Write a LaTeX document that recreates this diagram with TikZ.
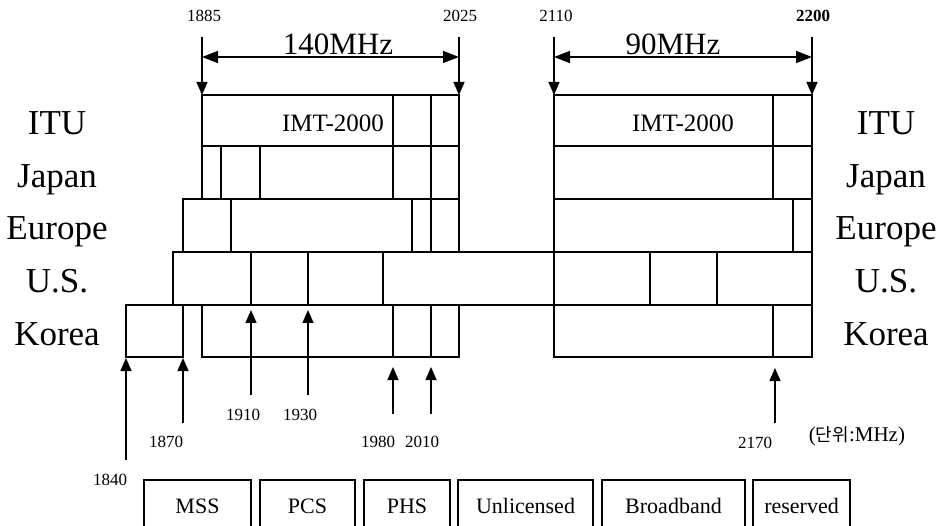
\documentclass[tikz,border=0pt]{standalone}
\usepackage{fontspec}
\setmainfont{Liberation Serif}
\newfontfamily\krfont{Noto Sans CJK KR}
\usetikzlibrary{arrows.meta}
\begin{document}
\begin{tikzpicture}[x=1pt,y=-1pt,
  band/.style={line width=1.4pt},
  uptip/.style={line width=1.4pt,-{Triangle[length=13pt,width=11pt]}},
  dimarrow/.style={line width=1.4pt,{Triangle[length=16pt,width=12pt]}-{Triangle[length=16pt,width=12pt]}},
  rowlab/.style={anchor=base,inner sep=0pt,font=\fontsize{35}{40}\selectfont},
  imt/.style={anchor=base,inner sep=0pt,font=\fontsize{25}{30}\selectfont},
  width/.style={anchor=base,inner sep=0pt,font=\fontsize{31}{36}\selectfont},
  freq/.style={anchor=base,inner sep=0pt,font=\fontsize{17}{20}\selectfont},
  legbox/.style={line width=1.4pt},
  legtext/.style={anchor=base,inner sep=0pt,font=\fontsize{22}{26}\selectfont}]
\useasboundingbox (0,0) rectangle (947,526);
\clip (0,0) rectangle (947,526);
\fill[white] (0,0) rectangle (947,526);

% row labels
\foreach \t/\b [count=\i] in {ITU/135,Japan/187.5,Europe/240,U.S./292.5,Korea/345}{
  \node[rowlab] (L\i) at (57,\b) {\t};
  \node[rowlab] (R\i) at (886,\b) {\t};
}

% ITU row
\draw[band] (202,95) rectangle (459,146);
\draw[band] (393,95) -- (393,146) (431,95) -- (431,146);
\draw[band] (554,95) rectangle (812,146);
\draw[band] (773,95) -- (773,146);
\node[imt] (imtA) at (333,132) {IMT-2000};
\node[imt] (imtB) at (683,132) {IMT-2000};

% Japan row
\draw[band] (202,146) rectangle (459,199);
\draw[band] (221,146) -- (221,199) (260,146) -- (260,199) (393,146) -- (393,199) (431,146) -- (431,199);
\draw[band] (554,146) rectangle (812,199);
\draw[band] (773,146) -- (773,199);

% Europe row
\draw[band] (183,199) rectangle (459,252);
\draw[band] (231,199) -- (231,252) (412,199) -- (412,252) (431,199) -- (431,252);
\draw[band] (554,199) rectangle (812,252);
\draw[band] (793,199) -- (793,252);

% U.S. row
\draw[band] (173,252) rectangle (812,305);
\foreach \x in {251,308,383,554,650,717} \draw[band] (\x,252) -- (\x,305);

% Korea row
\draw[band] (126,305) rectangle (183,357);
\draw[band] (202,305) rectangle (459,357);
\draw[band] (393,305) -- (393,357) (431,305) -- (431,357);
\draw[band] (554,305) rectangle (812,357);
\draw[band] (773,305) -- (773,357);

% top markers
\foreach \x/\n in {202/a,459/b,554/c,812/d}{
  \coordinate (ts\n) at (\x,37);
  \coordinate (te\n) at (\x,95);
  \draw[uptip] (ts\n) -- (te\n);
}
\coordinate (h1) at (202,57); \coordinate (h2) at (459,57);
\coordinate (h3) at (554,57); \coordinate (h4) at (812,57);
\draw[dimarrow] (h1) -- (h2);
\draw[dimarrow] (h3) -- (h4);
\node[width] (w140) at (338,55) {140MHz};
\node[width] (w90) at (673,55) {90MHz};
\node[freq] (f1885) at (204,22) {1885};
\node[freq] (f2025) at (460,22) {2025};
\node[freq] (f2110) at (556,22) {2110};
\node[freq,font=\fontsize{17}{20}\selectfont\bfseries] (f2200) at (813,22) {2200};

% bottom markers
\foreach \x/\s/\e/\n in {126/460/358/a,183/423/358/b,251/395/310/c,308/395/310/d,393/414/367/e,431/414/367/f,775/423/368/g}{
  \coordinate (bs\n) at (\x,\s);
  \coordinate (be\n) at (\x,\e);
  \draw[uptip] (bs\n) -- (be\n);
}
\node[freq] (f1840) at (110,485) {1840};
\node[freq] (f1870) at (166,447) {1870};
\node[freq] (f1910) at (243,420) {1910};
\node[freq] (f1930) at (300,420) {1930};
\node[freq] (f1980) at (378,447) {1980};
\node[freq] (f2010) at (422,447) {2010};
\node[freq] (f2170) at (755,448) {2170};
\node[freq,font=\fontsize{21}{24}\selectfont] (unit) at (857,441) {({\krfont\fontsize{18}{22}\selectfont 단위}:MHz)};

% legend
\foreach \a/\b/\t/\n in {144/251/MSS/m,260/355/PCS/p,364/450/PHS/h,458/593/Unlicensed/u,602/745/Broadband/bb,753/850/reserved/r}{
  \draw[legbox] (\a,480) rectangle (\b,545);
  \node[legtext] (leg\n) at ({(\a+\b)/2},513) {\t};
}
\end{tikzpicture}
\end{document}
